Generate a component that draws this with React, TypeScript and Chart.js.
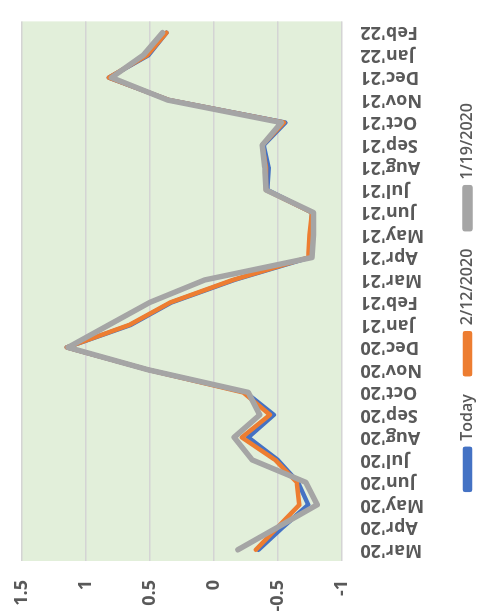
import React, { useEffect, useRef } from "react";
import { Chart, registerables } from "chart.js";

Chart.register(...registerables);

const categories = [
  "Mar'20", "Apr'20", "May'20", "Jun'20", "Jul'20", "Aug'20", "Sep'20", "Oct'20",
  "Nov'20", "Dec'20", "Jan'21", "Feb'21", "Mar'21", "Apr'21", "May'21", "Jun'21",
  "Jul'21", "Aug'21", "Sep'21", "Oct'21", "Nov'21", "Dec'21", "Jan'22", "Feb'22",
];

const seriesNames = ["Today", "2/12/2020", "1/19/2020"];

const todayValues = [
  -0.35, -0.54, -0.74, -0.66, -0.5, -0.27, -0.47, -0.25, 0.51, 1.15, 0.65, 0.33,
  -0.16, -0.75, -0.76, -0.77, -0.42, -0.43, -0.39, -0.56, 0.35, 0.82, 0.51, 0.37,
];
const feb12Values = [
  -0.33, -0.5, -0.67, -0.65, -0.48, -0.22, -0.44, -0.23, 0.51, 1.15, 0.66, 0.34,
  -0.15, -0.74, -0.75, -0.77, -0.41, -0.41, -0.38, -0.55, 0.35, 0.82, 0.52, 0.37,
];
const jan19Values = [
  -0.19, -0.5, -0.81, -0.72, -0.3, -0.16, -0.36, -0.27, 0.51, 1.14, 0.82, 0.5,
  0.07, -0.77, -0.78, -0.78, -0.41, -0.4, -0.38, -0.53, 0.36, 0.8, 0.55, 0.4,
];

const valueMin = -1;
const valueMax = 1.5;
const valueStep = 0.5;

const W = 616;
const H = 478;

export default function App() {
  const ref = useRef<HTMLCanvasElement>(null);

  useEffect(() => {
    if (!ref.current) return;
    const plotBg = {
      id: "plotBg",
      beforeDraw(chart: any) {
        const { ctx, chartArea: a } = chart;
        ctx.save();
        ctx.fillStyle = "#E2EFDA";
        ctx.fillRect(a.left, a.top, a.right - a.left, a.bottom - a.top);
        ctx.restore();
      },
    };
    const legendShift = {
      id: "legendShift",
      afterLayout(chart: any) {
        const l = chart.legend;
        if (l) {
          l.left += 12;
          l.right += 12;
        }
      },
    };
    const chart = new Chart(ref.current, {
      type: "line",
      data: {
        labels: categories,
        datasets: [
          {
            label: seriesNames[0],
            data: todayValues,
            borderColor: "#4472C4",
            backgroundColor: "#4472C4",
            borderWidth: 4.5,
            order: 2,
          },
          {
            label: seriesNames[1],
            data: feb12Values,
            borderColor: "#ED7D31",
            backgroundColor: "#ED7D31",
            borderWidth: 4.5,
            order: 1,
          },
          {
            label: seriesNames[2],
            data: jan19Values,
            borderColor: "#A5A5A5",
            backgroundColor: "#A5A5A5",
            borderWidth: 5.5,
            order: 0,
          },
        ],
      },
      options: {
        animation: false,
        responsive: false,
        layout: { padding: { top: 22, right: 1, left: 0, bottom: -7.5 } },
        elements: {
          point: { radius: 0, hoverRadius: 0 },
          line: { tension: 0, borderJoinStyle: "round", borderCapStyle: "round" },
        },
        plugins: {
          tooltip: { enabled: false },
          legend: {
            position: "bottom",
            labels: {
              boxWidth: 41,
              boxHeight: 5,
              padding: 20,
              color: "#595959",
              font: { family: "Open Sans", size: 16, weight: "600" },
              sort: (a: any, b: any) => a.datasetIndex - b.datasetIndex,
            },
          },
        },
        scales: {
          x: {
            offset: true,
            grid: { display: false },
            border: { display: false },
            ticks: {
              autoSkip: false,
              minRotation: 90,
              maxRotation: 90,
              padding: 11,
              color: "#595959",
              font: { family: "Open Sans", size: 18, weight: "bold" },
            },
            afterFit(s: any) {
              s.height = 98;
            },
          },
          y: {
            min: valueMin,
            max: valueMax,
            ticks: {
              stepSize: valueStep,
              padding: 0,
              color: "#595959",
              font: { family: "Open Sans", size: 18, weight: "bold" },
              callback: (v: any) => String(Number(v)),
            },
            grid: {
              color: "#D4D4D4",
              lineWidth: 1.5,
              drawTicks: true,
              tickLength: 19,
              tickColor: "rgba(0,0,0,0)",
            },
            border: { display: false },
            afterFit(s: any) {
              s.width = 55;
            },
          },
        },
      },
      plugins: [plotBg, legendShift],
    } as any);
    return () => chart.destroy();
  }, []);

  return (
    <div
      style={{
        position: "fixed",
        left: 0,
        top: 0,
        width: W,
        height: H,
        background: "#fff",
        transformOrigin: "0 0",
        transform: `translate(0px, ${W}px) rotate(-90deg)`,
      }}
    >
      <canvas ref={ref} width={W} height={H} style={{ display: "block" }} />
    </div>
  );
}
